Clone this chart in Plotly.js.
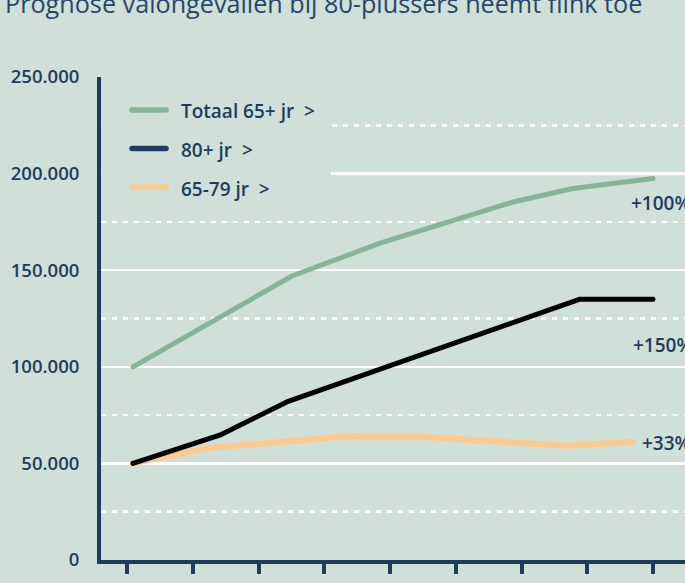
<!DOCTYPE html>
<html><head><meta charset="utf-8">
<script src="https://cdn.plot.ly/plotly-3.0.1.min.js"></script>
<style>
html,body{margin:0;padding:0;background:#cee0d7;overflow:hidden;}
.scatterlayer .js-line{stroke-linecap:round;stroke-linejoin:round;}
.shapelayer path{stroke-linecap:round;}
</style></head><body>
<div id="chart" style="width:685px;height:583px"></div>
<script>
// ---- data ----
const xTicks = [0,1,2,3,4,5,6,7,8];
const yTicks = [0,50000,100000,150000,200000,250000];
const seriesNames = ["Totaal 65+ jr", "80+ jr", "65-79 jr"];
const totaalX = [0.09, 2.51, 3.85, 4.87, 5.87, 6.78, 8.0];
const totaalY = [100000, 147000, 164000, 175000, 185300, 192300, 197500];
const plus80X = [0.09, 1.41, 2.43, 6.89, 8.0];
const plus80Y = [50000, 64600, 81800, 135000, 135000];
const jrX = [0.09, 1.22, 3.35, 4.46, 6.69, 7.7];
const jrY = [50000, 57900, 64100, 63800, 59100, 61200];
const growthLabels = ["+100%", "+150%", "+33%"];
const titleText = "Prognose valongevallen bij 80-plussers neemt flink toe";

// ---- styling ----
const W = 685, H = 583;
const M = {l: 101, r: 0, t: 77, b: 23};
const PW = W - M.l - M.r, PH = H - M.t - M.b;
const px = x => (x - M.l) / PW;
const py = y => (H - M.b - y) / PH;
const BG = "#cee0d7", NAVY = "#1e3d5c";
const GREEN = "#86b498", BLACK = "#000000", ORANGE = "#fdcb8f";
const FONT = "Open Sans";

const traces = [
  {x: totaalX, y: totaalY, mode: "lines", line: {color: GREEN, width: 5}, showlegend: false, hoverinfo: "skip"},
  {x: jrX, y: jrY, mode: "lines", line: {color: ORANGE, width: 6}, showlegend: false, hoverinfo: "skip"},
  {x: plus80X, y: plus80Y, mode: "lines", line: {color: BLACK, width: 5}, showlegend: false, hoverinfo: "skip"}
];

const legendColors = [GREEN, NAVY, ORANGE];
const legendY = [110, 148.5, 187];
const shapes = [
  {type: "rect", xref: "paper", yref: "paper", x0: px(101.5), x1: px(331), y0: py(200), y1: py(88),
   fillcolor: BG, line: {width: 0}, layer: "above"}
];
const annotations = [];
seriesNames.forEach((n, i) => {
  shapes.push({type: "line", xref: "paper", yref: "paper", x0: px(132), x1: px(166), y0: py(legendY[i]), y1: py(legendY[i]),
    line: {color: legendColors[i], width: 5.5}, layer: "above"});
  annotations.push({xref: "paper", yref: "paper", x: px(179), y: py(legendY[i] + 1.5), xanchor: "left", yanchor: "middle",
    text: n + "&nbsp;&nbsp;>", showarrow: false, font: {family: FONT, size: 19, weight: 600, color: NAVY}});
});
const growthPos = [[629, 203], [631, 345], [640, 443]];
growthLabels.forEach((t, i) => {
  annotations.push({xref: "paper", yref: "paper", x: px(growthPos[i][0]), y: py(growthPos[i][1]), xanchor: "left", yanchor: "middle",
    text: t, showarrow: false, font: {family: FONT, size: 19, weight: 600, color: NAVY}});
});

const layout = {
  width: W, height: H, margin: M,
  paper_bgcolor: BG, plot_bgcolor: BG,
  separators: ",.",
  showlegend: false,
  title: {text: titleText, x: 5 / W, xanchor: "left", xref: "container", yref: "container", y: 1 - 4/H, yanchor: "middle",
          font: {family: FONT, size: 25.2, weight: 400, color: "#26476a"}},
  xaxis: {range: [(M.l - 127) / 65.75, (W - 127) / 65.75], tickvals: xTicks, showticklabels: false,
          ticks: "outside", ticklen: 10, tickwidth: 4, tickcolor: NAVY,
          showline: true, linewidth: 4, linecolor: NAVY, showgrid: false, zeroline: false, fixedrange: true},
  yaxis: {range: [0, 250000], tickvals: yTicks, tickformat: ",d", ticks: "", ticklabelstandoff: 14,
          tickfont: {family: FONT, size: 18.5, weight: 600, color: NAVY},
          showline: true, linewidth: 4, linecolor: NAVY,
          showgrid: true, gridcolor: "#ffffff", gridwidth: 2.5, zeroline: false,
          minor: {tick0: 25000, dtick: 50000, showgrid: true, gridcolor: "#ffffff", gridwidth: 2.5, griddash: "5px,6px", ticks: ""},
          fixedrange: true},
  shapes: shapes,
  annotations: annotations
};
Plotly.newPlot("chart", traces, layout, {displayModeBar: false, staticPlot: true});
</script></body></html>
